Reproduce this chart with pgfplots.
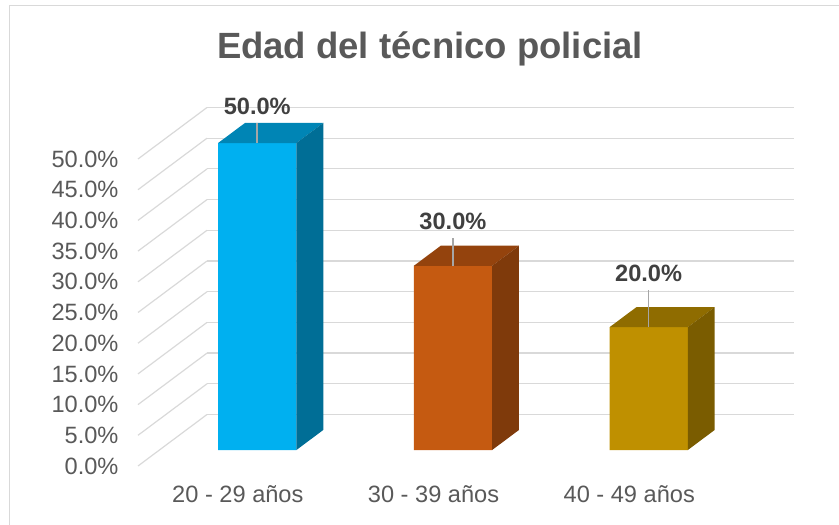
\documentclass[border=0pt]{standalone}
\usepackage{pgfplots}
\pgfplotsset{compat=1.18}
\usepackage{fontspec}
\setmainfont{Liberation Sans}
\definecolor{gridc}{HTML}{D9D9D9}
\definecolor{txt}{HTML}{595959}
\definecolor{lbl}{HTML}{404040}
\definecolor{leader}{HTML}{A6A6A6}
\definecolor{bAf}{HTML}{00B0F0}
\definecolor{bAt}{HTML}{0085B5}
\definecolor{bAs}{HTML}{006E96}
\definecolor{bBf}{HTML}{C55A11}
\definecolor{bBt}{HTML}{94430D}
\definecolor{bBs}{HTML}{7F3A0B}
\definecolor{bCf}{HTML}{BF9000}
\definecolor{bCt}{HTML}{8F6C00}
\definecolor{bCs}{HTML}{7A5C00}
% #1 x-left, #2 x-right, #3 depth-front, #4 depth-back, #5 value, #6 front, #7 top, #8 side
\newcommand{\threedbar}[8]{%
  \addplot3[fill=#6,draw=none,forget plot] coordinates {(#1,#3,0) (#2,#3,0) (#2,#3,#5) (#1,#3,#5) (#1,#3,0)};
  \addplot3[fill=#7,draw=none,forget plot] coordinates {(#1,#3,#5) (#2,#3,#5) (#2,#4,#5) (#1,#4,#5) (#1,#3,#5)};
  \addplot3[fill=#8,draw=none,forget plot] coordinates {(#2,#3,0) (#2,#4,0) (#2,#4,#5) (#2,#3,#5) (#2,#3,0)};
}
\begin{document}
\begin{tikzpicture}
\useasboundingbox (0,0) rectangle (839bp,525bp);
\draw[gridc, line width=1.3bp] (9.5bp,0) -- (9.5bp,519.5bp) -- (839bp,519.5bp);
\node[anchor=base, text=txt, font=\fontsize{36.5bp}{44bp}\selectfont\bfseries] at (430bp,466bp) {Edad del técnico policial};
\begin{axis}[
  x={(195.7bp,0bp)}, y={(69bp,51.5bp)}, z={(0bp,6.14bp)},
  xmin=0, xmax=3, ymin=0, ymax=1, zmin=0, zmax=50,
  at={(138bp,59bp)}, anchor=origin,
  axis line style={draw=none},
  major tick length=0pt,
  xtick={0.5,1.5,2.5},
  xticklabels={20 - 29 años, 30 - 39 años, 40 - 49 años},
  ytick=\empty,
  ztick={0,5,...,50},
  zmajorgrids=true, xmajorgrids=false, ymajorgrids=false,
  major grid style={draw=gridc, line width=1.2bp},
  zticklabel={\pgfmathprintnumber[fixed,fixed zerofill,precision=1]{\tick}\%},
  tick label style={font=\fontsize{23.6bp}{28bp}\selectfont, text=txt},
  x tick label style={anchor=north, yshift=-16bp, xshift=2bp},
  z tick label style={anchor=east, xshift=-16bp},
  /pgf/number format/assume math mode=true,
  clip=false,
]
\threedbar{0.30}{0.70}{0.31}{0.70}{50}{bAf}{bAt}{bAs}
\threedbar{1.30}{1.70}{0.31}{0.70}{30}{bBf}{bBt}{bBs}
\threedbar{2.30}{2.70}{0.31}{0.70}{20}{bCf}{bCt}{bCs}
\addplot3[leader, line width=1.5bp, forget plot] coordinates {(0.5,0.31,50) (0.5,0.31,53.3)};
\addplot3[leader, line width=1.5bp, forget plot] coordinates {(1.5,0.31,30) (1.5,0.31,34.6)};
\addplot3[leader, line width=1.5bp, forget plot] coordinates {(2.5,0.31,20) (2.5,0.31,26.0)};
\node[anchor=base, text=lbl, font=\fontsize{23.6bp}{28bp}\selectfont\bfseries] at (axis cs:0.5,0.31,54.7) {50.0\%};
\node[anchor=base, text=lbl, font=\fontsize{23.6bp}{28bp}\selectfont\bfseries] at (axis cs:1.5,0.31,35.9) {30.0\%};
\node[anchor=base, text=lbl, font=\fontsize{23.6bp}{28bp}\selectfont\bfseries] at (axis cs:2.5,0.31,27.5) {20.0\%};
\end{axis}
\end{tikzpicture}
\end{document}
